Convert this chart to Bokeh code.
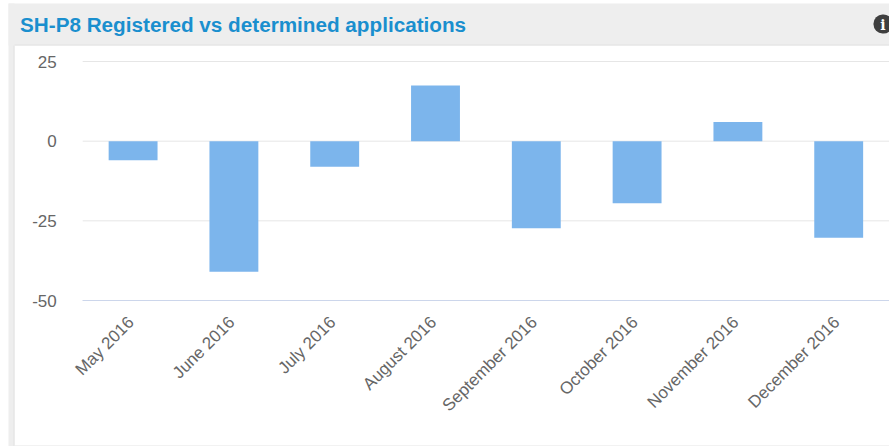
from bokeh.plotting import figure
from bokeh.models import BoxAnnotation, Label, FixedTicker, Range1d
from bokeh.embed import file_html
from bokeh.resources import INLINE
from math import pi

title_text = "SH-P8 Registered vs determined applications"
months = ["May 2016", "June 2016", "July 2016", "August 2016",
          "September 2016", "October 2016", "November 2016", "December 2016"]
values = [-6, -41, -8, 17.5, -27.3, -19.5, 6, -30.3]
y_ticks = [-50, -25, 0, 25]
y_labels = ["-50", "-25", "0", "25"]

W, H = 889, 446
PLOT_LEFT, PLOT_RIGHT, PLOT_TOP, PLOT_BOTTOM = 82.2, 888.6, 61.0, 300.0
px_x = (PLOT_RIGHT - PLOT_LEFT) / len(months)
px_y = (PLOT_BOTTOM - PLOT_TOP) / (y_ticks[-1] - y_ticks[0])
xs = -0.5 - PLOT_LEFT / px_x
xe = len(months) - 0.5 + (W - PLOT_RIGHT) / px_x
yt = y_ticks[-1] + PLOT_TOP / px_y
yb = y_ticks[0] - (H - PLOT_BOTTOM) / px_y

idx = list(range(len(months)))
label_pos = [i - 0.02 for i in idx]

p = figure(x_range=Range1d(xs, xe), y_range=Range1d(yb, yt), width=W, height=H,
           output_backend="svg", toolbar_location=None,
           min_border_left=0, min_border_right=0, min_border_top=0, min_border_bottom=0,
           background_fill_color="white", border_fill_color="white", outline_line_color=None)
p.styles = {"position": "absolute", "left": "0px", "top": "0px"}


def panel(l, r, t, b, color):
    p.add_layout(BoxAnnotation(left=l, right=r, top=t, bottom=b,
                               left_units="canvas", right_units="canvas",
                               top_units="canvas", bottom_units="canvas",
                               fill_color=color, fill_alpha=1, line_color=None,
                               level="underlay"))


panel(8, 889, 3, 45, "#eeeeee")
panel(8, 14, 3, 446, "#eeeeee")
panel(13, 14, 45, 446, "#e2e2e2")
panel(14, 889, 44, 45, "#e2e2e2")
panel(14, 889, 445, 446, "#e6e6e6")

grid_vals = y_ticks[1:]
p.segment(x0=[-0.5] * len(grid_vals), x1=[xe] * len(grid_vals), y0=grid_vals, y1=grid_vals,
          line_color="#e6e6e6", line_width=1)
p.vbar(x=idx, top=values, bottom=0, width=0.485, color="#7cb5ec", line_color=None)

p.xgrid.visible = False
p.ygrid.visible = False

p.yaxis.fixed_location = -0.5
p.yaxis.ticker = FixedTicker(ticks=y_ticks)
p.yaxis.major_label_overrides = dict(zip(y_ticks, y_labels))
p.yaxis.axis_line_color = None
p.yaxis.major_tick_line_color = None
p.yaxis.minor_tick_line_color = None
p.yaxis.major_label_text_font = "Liberation Sans"
p.yaxis.major_label_text_font_size = "17px"
p.yaxis.major_label_text_color = "#666666"
p.yaxis.major_label_standoff = 20

p.xaxis.fixed_location = y_ticks[0]
p.xaxis.bounds = (-0.5, xe)
p.xaxis.ticker = FixedTicker(ticks=label_pos)
p.xaxis.major_label_overrides = dict(zip(label_pos, months))
p.xaxis.axis_line_color = "#ccd6eb"
p.xaxis.major_tick_line_color = None
p.xaxis.minor_tick_line_color = None
p.xaxis.major_label_orientation = pi / 4
p.xaxis.major_label_text_font = "Liberation Sans"
p.xaxis.major_label_text_font_size = "17px"
p.xaxis.major_label_text_color = "#666666"
p.xaxis.major_label_standoff = 13

p.add_layout(Label(x=19.5, y=24, x_units="canvas", y_units="canvas", text=title_text,
                   text_font="Liberation Sans", text_font_size="20.7px", text_font_style="bold",
                   text_color="#1a8fce", text_baseline="middle"))

p.add_layout(BoxAnnotation(left=873, right=892, top=14, bottom=33,
                           left_units="canvas", right_units="canvas",
                           top_units="canvas", bottom_units="canvas",
                           fill_color="#3f3f3f", fill_alpha=1, line_color=None,
                           border_radius=9))
p.add_layout(Label(x=882.5, y=24, x_units="canvas", y_units="canvas", text="i",
                   text_font="DejaVu Serif", text_font_size="14px", text_font_style="bold",
                   text_color="white", text_align="center", text_baseline="middle"))

open("out.html", "w").write(file_html(p, INLINE))
